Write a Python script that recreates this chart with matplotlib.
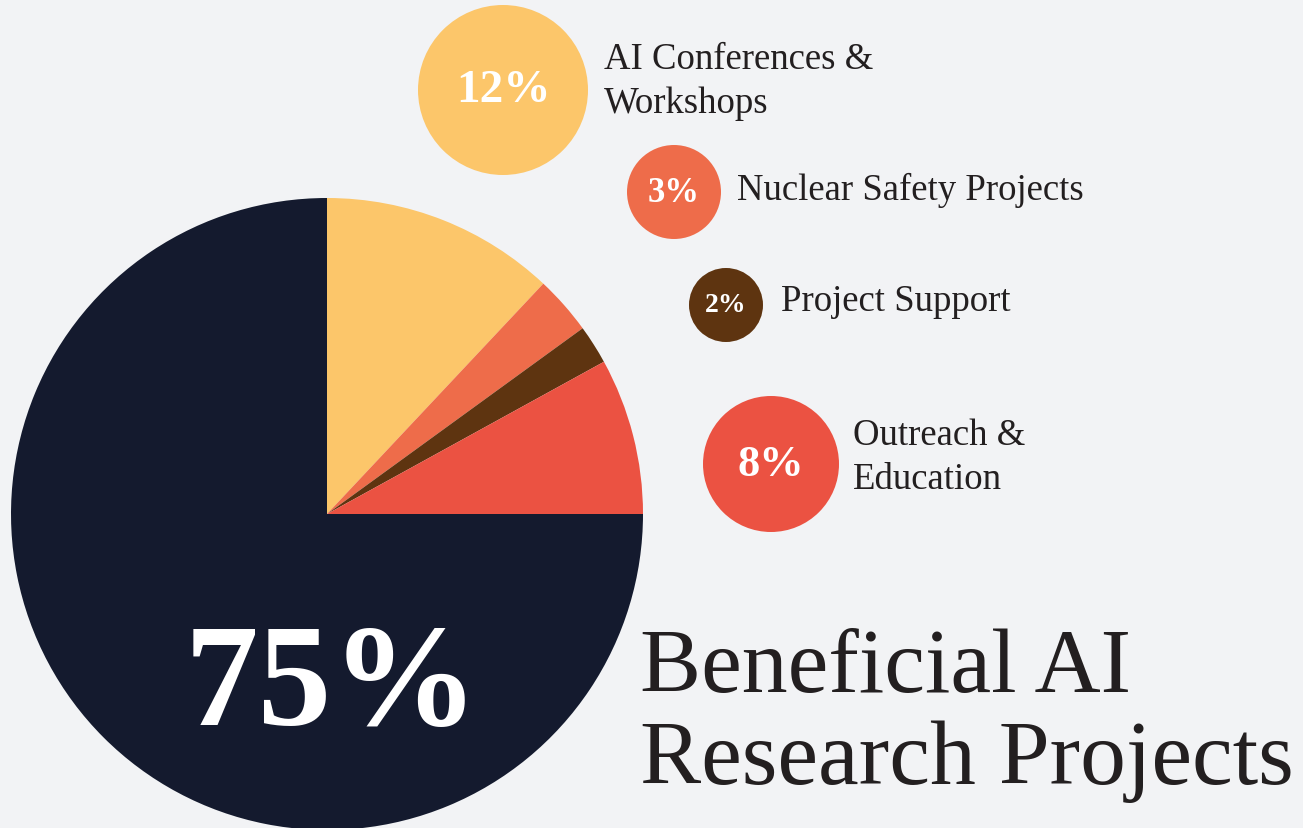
#!/usr/bin/env python3

import matplotlib
matplotlib.use("Agg")
from matplotlib import pyplot as plt

# data
categories = [
    "AI Conferences &\nWorkshops",
    "Nuclear Safety Projects",
    "Project Support",
    "Outreach &\nEducation",
    "Beneficial AI\nResearch Projects",
]
shares = [12, 3, 2, 8, 75]
colors = ["#FCC66A", "#EE6C4A", "#5E3410", "#EB5242", "#141A2E"]

# layout (pixel units, y measured from the top)
W, H = 1303, 829
pie_center = (327, 515)
pie_radius = 316
# bubble centre x, centre y, radius, label x, label y, pct fontsize
bubbles = [
    (503, 91, 85, 604, 82, 34),
    (674, 193, 47, 737, 190, 25),
    (726, 306, 37, 781, 302, 20),
    (771, 465, 68, 853, 458, 32),
]
BG = "#F2F3F5"
TXT = "#231F20"
SERIF = ["Liberation Serif", "DejaVu Serif"]


def fy(y):
    return H - y


fig = plt.figure(figsize=(W / 100, H / 100), dpi=100, facecolor=BG)
ax = fig.add_axes([0, 0, 1, 1])
ax.set_facecolor(BG)

ax.pie(
    shares,
    colors=colors,
    startangle=90,
    counterclock=False,
    center=(pie_center[0], fy(pie_center[1])),
    radius=pie_radius,
    wedgeprops=dict(linewidth=0),
)

for (cx, cy, r, lx, ly, fs), cat, val, col in zip(
    bubbles, categories[:4], shares[:4], colors[:4]
):
    ax.add_patch(plt.Circle((cx, fy(cy)), r, color=col, lw=0))
    ax.text(cx, fy(cy), f"{val}%", color="white", fontsize=fs,
            fontweight="bold", family=SERIF, ha="center", va="center")
    ax.text(lx, fy(ly), cat, color=TXT, fontsize=26.5, family=SERIF,
            ha="left", va="center", linespacing=1.34)

# big slice label and title
ax.text(332, fy(690), f"{shares[4]}%", color="white", fontsize=106,
        fontweight="bold", family=SERIF, ha="center", va="center")
ax.text(640, fy(716), categories[4], color=TXT, fontsize=66, family=SERIF,
        ha="left", va="center", linespacing=1.15)

ax.set_xlim(0, W)
ax.set_ylim(0, H)
ax.set_aspect("equal")
ax.axis("off")

fig.savefig("out.png", dpi=100, facecolor=BG)
